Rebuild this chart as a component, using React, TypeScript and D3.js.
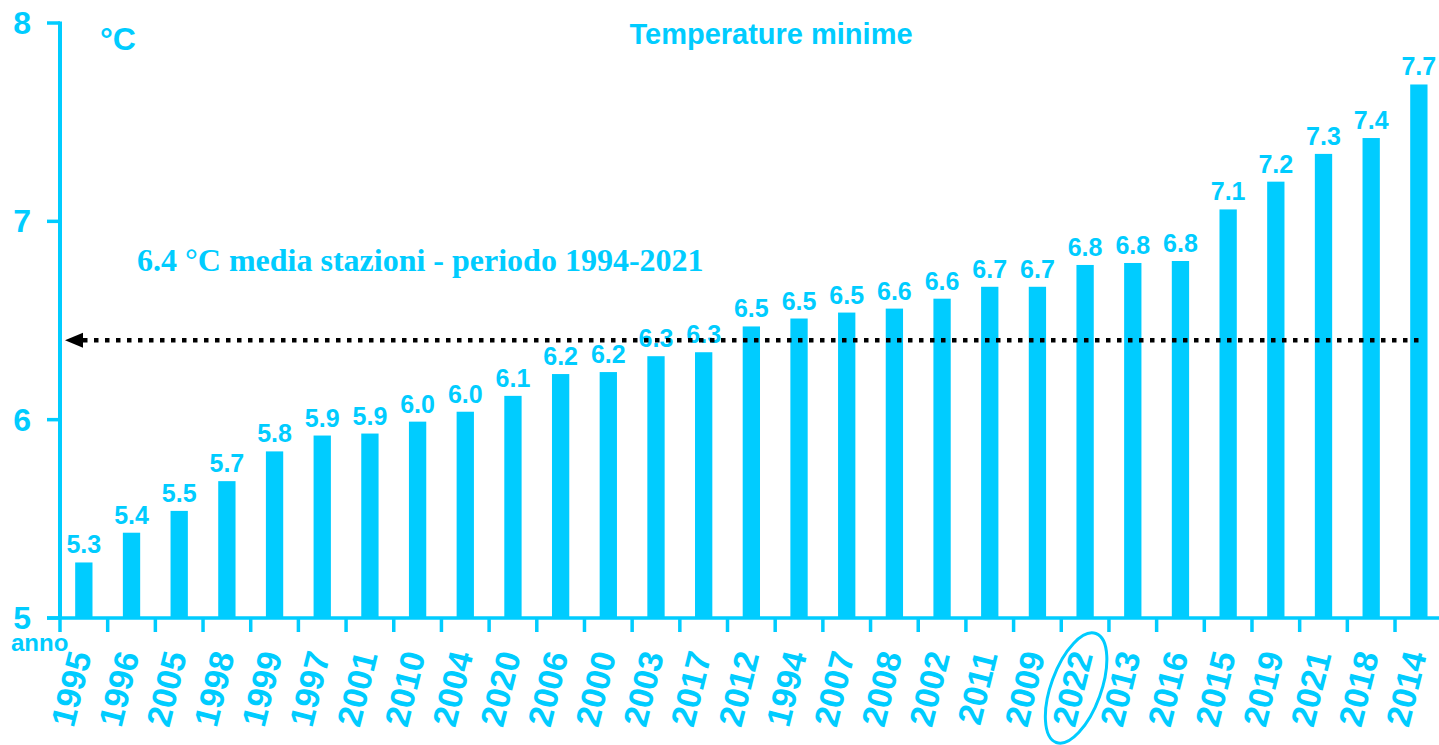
import React from "react";
import * as d3 from "d3";

const years = ["1995","1996","2005","1998","1999","1997","2001","2010","2004","2020","2006","2000","2003","2017","2012","1994","2007","2008","2002","2011","2009","2022","2013","2016","2015","2019","2021","2018","2014"];
const values = [5.28,5.43,5.54,5.69,5.84,5.92,5.93,5.99,6.04,6.12,6.23,6.24,6.32,6.34,6.47,6.51,6.54,6.56,6.61,6.67,6.67,6.78,6.79,6.8,7.06,7.2,7.34,7.42,7.69];
const yTicks = [5, 6, 7, 8];
const meanValue = 6.4;
const highlightYear = "2022";
const title = "Temperature minime";
const unitLabel = "°C";
const xAxisLabel = "anno";
const meanLabel = "6.4 °C media stazioni - periodo 1994-2021";

const W = 1439;
const H = 745;
const CYAN = "#00CCFF";
const SANS = "'Liberation Sans', Arial, Helvetica, sans-serif";
const SERIF = "'Liberation Serif', 'Times New Roman', serif";

export default function App() {
  const x = d3.scaleBand<string>().domain(years).range([60, 1442.7]).paddingInner(0).paddingOuter(0);
  const y = d3.scaleLinear().domain([5, 8]).range([618, 23]);
  const bw = x.bandwidth();
  const barW = bw * 0.363;
  const fmt = d3.format(".1f");
  const axisX = x.range()[0];
  const baseY = y(5);
  const meanY = y(meanValue);
  const hx = (x(highlightYear) as number) + bw / 2;

  return (
    <svg width={W} height={H} style={{ position: "absolute", left: 0, top: 0, background: "#fff" }}>
      {/* title */}
      <text x={771} y={44} textAnchor="middle" fill={CYAN} fontFamily={SANS} fontWeight="bold" fontSize={29}>{title}</text>
      <text x={100} y={50} fill={CYAN} fontFamily={SANS} fontWeight="bold" fontSize={32}>{unitLabel}</text>

      {/* bars */}
      {years.map((yr, i) => {
        const cx = (x(yr) as number) + bw / 2;
        return (
          <g key={yr}>
            <rect x={cx - barW / 2} y={y(values[i])} width={barW} height={baseY - y(values[i])} fill={CYAN} />
            <text x={cx} y={y(values[i]) - 9} textAnchor="middle" fill={CYAN} fontFamily={SANS} fontWeight="bold" fontSize={25}>{fmt(values[i])}</text>
          </g>
        );
      })}

      {/* y axis */}
      <line x1={axisX} x2={axisX} y1={y(8) - 1.5} y2={baseY} stroke={CYAN} strokeWidth={4} />
      {yTicks.map((t) => (
        <g key={t}>
          <line x1={axisX - 13} x2={axisX} y1={y(t)} y2={y(t)} stroke={CYAN} strokeWidth={3.5} />
          <text x={31} y={y(t) + 11} textAnchor="end" fill={CYAN} fontFamily={SANS} fontWeight="bold" fontSize={32}>{t}</text>
        </g>
      ))}

      {/* x axis */}
      <line x1={axisX - 13} x2={W} y1={baseY} y2={baseY} stroke={CYAN} strokeWidth={3.5} />
      {years.map((yr) => (
        <line key={"t" + yr} x1={(x(yr) as number)} x2={(x(yr) as number)} y1={baseY} y2={baseY + 14} stroke={CYAN} strokeWidth={3.5} />
      ))}
      {years.map((yr) => {
        const cx = (x(yr) as number) + bw / 2;
        return (
          <text key={"l" + yr} transform={`translate(${cx + 8},${655}) rotate(-76)`} textAnchor="end" fill={CYAN} fontFamily={SANS} fontWeight="bold" fontSize={34}>{yr}</text>
        );
      })}
      <text x={11} y={651} fill={CYAN} fontFamily={SANS} fontWeight="bold" fontSize={24}>{xAxisLabel}</text>

      {/* highlight ellipse */}
      <ellipse cx={0} cy={0} rx={25} ry={58} transform={`translate(${hx - 9},${688}) rotate(20)`} fill="none" stroke={CYAN} strokeWidth={3} />

      {/* mean line */}
      <line x1={axisX + 23} x2={1425} y1={meanY} y2={meanY} stroke="#000" strokeWidth={4.5} strokeDasharray="4.5 6.5" />
      <polygon points={`${axisX + 5},${meanY} ${axisX + 23},${meanY - 7.5} ${axisX + 23},${meanY + 7.5}`} fill="#000" />
      <text x={137} y={271} fill={CYAN} fontFamily={SERIF} fontWeight="bold" fontSize={32}>{meanLabel}</text>
    </svg>
  );
}
